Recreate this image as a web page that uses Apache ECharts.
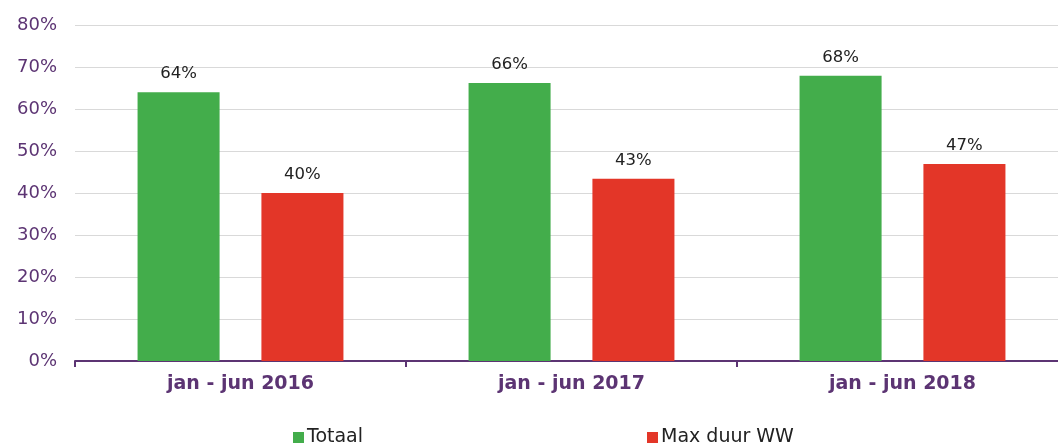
<!DOCTYPE html>
<html><head><meta charset="utf-8">
<script src="https://cdn.jsdelivr.net/npm/echarts@6/dist/echarts.min.js"></script>
<style>html,body{margin:0;padding:0;background:#fff}#c{width:1058px;height:444px}</style>
</head><body><div id="c"></div>
<script>
const categories = ['jan - jun 2016', 'jan - jun 2017', 'jan - jun 2018'];
const totaal = [64.0, 66.2, 67.9];
const maxDuurWW = [40.0, 43.4, 46.9];
const yTicks = [0, 10, 20, 30, 40, 50, 60, 70, 80];

const purple = '#5c3473';
const chart = echarts.init(document.getElementById('c'));
const labelStyle = {
  show: true, position: 'top', distance: 10,
  color: '#222', fontFamily: 'DejaVu Sans', fontSize: 16.5,
  formatter: p => Math.round(p.value) + '%'
};
chart.setOption({
  animation: false,
  grid: { left: 75, width: 993, top: 25, bottom: 83, containLabel: false, outerBoundsMode: 'none' },
  legend: [
    { data: ['Totaal'], left: 288, top: 423, itemWidth: 11, itemHeight: 11, icon: 'rect', itemGap: 4,
      textStyle: { fontFamily: 'DejaVu Sans', fontSize: 19, color: '#222', padding: [0, 0, 0, -2] } },
    { data: ['Max duur WW'], left: 642, top: 423, itemWidth: 11, itemHeight: 11, icon: 'rect',
      textStyle: { fontFamily: 'DejaVu Sans', fontSize: 19, color: '#222', padding: [0, 0, 0, -2] } }
  ],
  xAxis: {
    type: 'category', data: categories,
    axisLine: { lineStyle: { color: purple, width: 2 } },
    axisTick: { show: true, length: 6, lineStyle: { color: purple, width: 2 } },
    axisLabel: { color: purple, fontFamily: 'DejaVu Sans', fontWeight: 'bold', fontSize: 19, margin: 14 }
  },
  yAxis: {
    type: 'value', min: yTicks[0], max: yTicks[yTicks.length - 1], interval: 10,
    axisLine: { show: false }, axisTick: { show: false },
    splitLine: { lineStyle: { color: '#d9d9d9', width: 1 } },
    axisLabel: { color: purple, fontFamily: 'DejaVu Sans', fontSize: 18, margin: 18, formatter: v => v + '%' }
  },
  series: [
    { name: 'Totaal', type: 'bar', data: totaal, itemStyle: { color: '#43ad4b' },
      barGap: '51%', barCategoryGap: '37.8%', label: labelStyle },
    { name: 'Max duur WW', type: 'bar', data: maxDuurWW, itemStyle: { color: '#e33628' },
      label: labelStyle }
  ]
});
</script></body></html>
